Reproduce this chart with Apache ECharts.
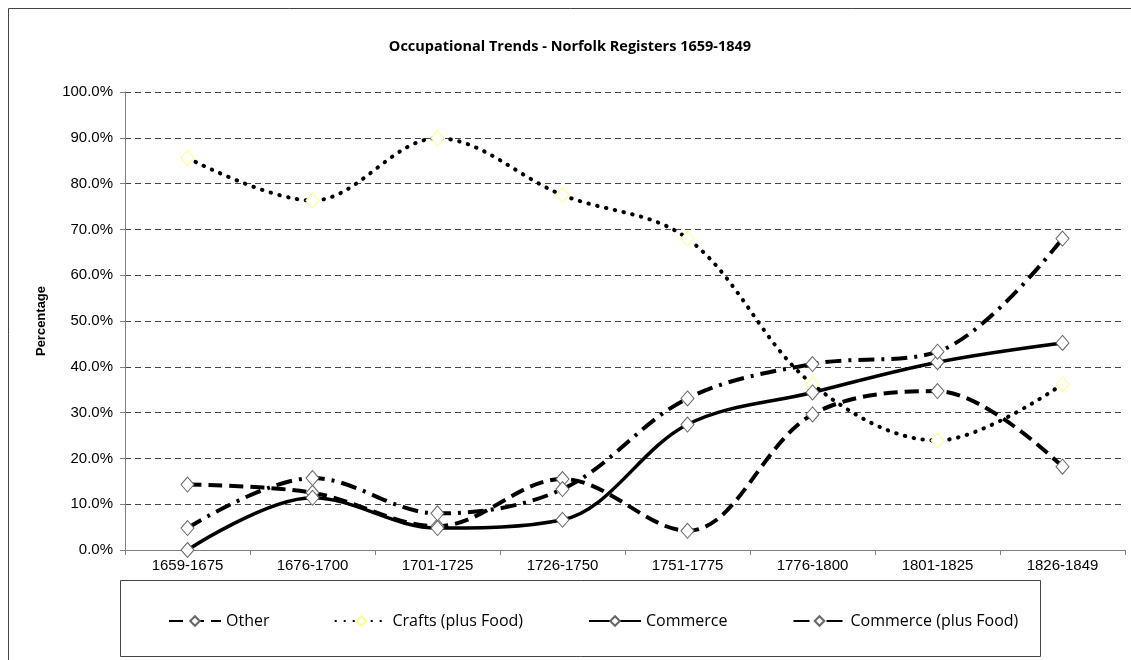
<!DOCTYPE html>
<html><head><meta charset="utf-8">
<script src="https://cdn.jsdelivr.net/npm/echarts@6/dist/echarts.min.js"></script>
<style>html,body{margin:0;padding:0;background:#fff}#c{width:1131px;height:660px}</style>
</head><body><div id="c"></div>
<script>
const categories = ['1659-1675','1676-1700','1701-1725','1726-1750','1751-1775','1776-1800','1801-1825','1826-1849'];
const other = [14.3, 12.5, 5.2, 15.5, 4.2, 29.6, 34.7, 18.2];
const crafts = [85.6, 76.3, 89.9, 77.5, 68.0, 36.2, 23.9, 36.2];
const commerce = [0.0, 11.4, 4.8, 6.6, 27.4, 34.4, 41.0, 45.2];
const commercePlusFood = [4.8, 15.7, 8.0, 13.3, 33.1, 40.6, 43.3, 68.0];
const yTicks = [0, 10, 20, 30, 40, 50, 60, 70, 80, 90, 100];

const chart = echarts.init(document.getElementById('c'));
const labelFont = 'Liberation Sans, Arial, sans-serif';
const narrow = 'Open Sans, sans-serif';
function mk(name, data, dash, width, markerColor, cap) {
  return {
    name, type: 'line', data, smooth: 0.35,
    symbol: 'diamond', symbolSize: [13, 15],
    itemStyle: { color: '#fff', borderColor: markerColor, borderWidth: 1 },
    lineStyle: { color: '#000', width: width, type: dash, cap: cap || 'butt' },
    emphasis: { disabled: true }
  };
}
chart.setOption({
  animation: false,
  title: {
    text: 'Occupational Trends - Norfolk Registers 1659-1849',
    left: 565, textAlign: 'center', top: 34,
    textStyle: { fontFamily: narrow, fontSize: 14.5, fontWeight: 'bold', color: '#000' }
  },
  graphic: [
    { type: 'rect', shape: { x: 8.5, y: 8.5, width: 1140, height: 700 }, style: { fill: 'none', stroke: '#444', lineWidth: 1 }, silent: true },
    { type: 'rect', shape: { x: 120.5, y: 580.5, width: 920, height: 76 }, style: { fill: 'none', stroke: '#444', lineWidth: 1 }, silent: true }
  ],
  grid: { left: 125, right: 6, top: 92, bottom: 110, containLabel: false },
  xAxis: {
    type: 'category', data: categories, boundaryGap: true,
    axisLine: { lineStyle: { color: '#808080', width: 1 } },
    axisTick: { show: true, length: 5, lineStyle: { color: '#808080' } },
    axisLabel: { fontFamily: labelFont, fontSize: 15, color: '#000', margin: 8 }
  },
  yAxis: {
    type: 'value', min: 0, max: 100, interval: 10,
    name: 'Percentage', nameLocation: 'middle', nameGap: 77, nameRotate: 90,
    nameTextStyle: { fontFamily: labelFont, fontSize: 13, fontWeight: 'bold', color: '#000' },
    axisLine: { show: true, lineStyle: { color: '#808080', width: 1 } },
    axisTick: { show: true, length: 5, inside: false, lineStyle: { color: '#808080' } },
    axisLabel: { fontFamily: labelFont, fontSize: 15, color: '#000', margin: 12,
      formatter: v => yTicks.includes(v) ? v.toFixed(1) + '%' : '' },
    splitLine: { show: true, lineStyle: { color: '#444', type: [6, 4], width: 1 } }
  },
  legend: {
    left: 163, top: 608, itemWidth: 52, itemHeight: 12, itemGap: 65,
    textStyle: { fontFamily: narrow, fontSize: 16, color: '#000' },
    data: ['Other', 'Crafts (plus Food)', 'Commerce', 'Commerce (plus Food)']
  },
  series: [
    mk('Other', other, [14, 7], 4, '#666'),
    mk('Crafts (plus Food)', crafts, [0.5, 8.5], 4, '#ffff88', 'round'),
    mk('Commerce', commerce, 'solid', 3.5, '#666'),
    mk('Commerce (plus Food)', commercePlusFood, [16, 7, 3, 7], 4, '#666')
  ]
});
</script></body></html>
